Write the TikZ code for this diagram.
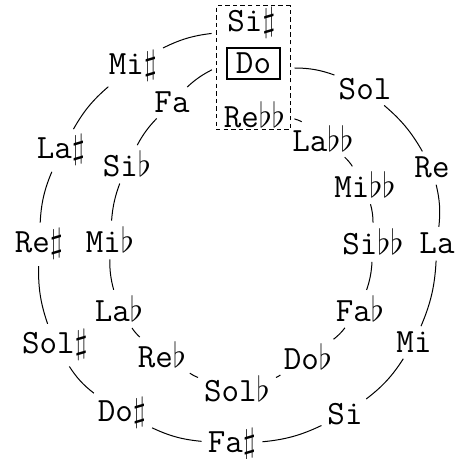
\documentclass[tikz,border=0pt]{standalone}
\usetikzlibrary{calc}
\newcommand{\shrp}{$\sharp$}
\newcommand{\flt}{$\flat$}
\begin{document}
\begin{tikzpicture}[x=0.5pt, y=0.5pt,
        note/.style={font=\fontsize{17}{18}\selectfont\ttfamily, inner sep=1pt, anchor=base},
        tonic/.style={draw, line width=0.6pt, font=\fontsize{17}{18}\selectfont\ttfamily,
            minimum width=26.5pt, minimum height=15.5pt, inner sep=0pt},
        enhbox/.style={draw, line width=0.5pt, dash pattern=on 2.2pt off 1.6pt,
            minimum width=37pt, minimum height=62pt, inner sep=0pt},
        link/.style={line width=0.5pt, shorten >=2pt, shorten <=2pt}
    ]
    \useasboundingbox (0,0) rectangle (454,459);
    \node[enhbox] (enh) at (253,391) {};
    \node[tonic] (do) at (253.5,395.5) {Do};
    \node[note] (sis) at (251.5,427) {Si\shrp};
    \node[note] (rebb) at (254.5,331) {Re\flt\flt};
    \coordinate (enhmis) at ($(enh.north west)!0.22!(enh.south west)$);
    \coordinate (enhlabb) at ($(enh.north east)!0.9!(enh.south east)$);
    % sharps, outer ring
    \node[note] (sol) at (365,359) {Sol};
    \node[note] (re) at (432,281) {Re};
    \node[note] (la) at (437,205) {La};
    \node[note] (mi) at (414,106) {Mi};
    \node[note] (si) at (345,34) {Si};
    \node[note] (fas) at (232,6) {Fa\shrp};
    \node[note] (dos) at (122,37) {Do\shrp};
    \node[note] (sols) at (55,105) {Sol\shrp};
    \node[note] (res) at (39,206) {Re\shrp};
    \node[note] (las) at (61,300) {La\shrp};
    \node[note] (mis) at (133,384) {Mi\shrp};
    % flats, inner ring
    \node[note] (fa) at (172,346) {Fa};
    \node[note] (sif) at (127,282) {Si\flt};
    \node[note] (mif) at (110,206) {Mi\flt};
    \node[note] (laf) at (119,137) {La\flt};
    \node[note] (ref) at (162,91) {Re\flt};
    \node[note] (solf) at (237,57) {Sol\flt};
    \node[note] (dof) at (308,89) {Do\flt};
    \node[note] (faf) at (360,137) {Fa\flt};
    \node[note] (sibb) at (373,204) {Si\flt\flt};
    \node[note] (mibb) at (365,261) {Mi\flt\flt};
    \node[note] (labb) at (323,307) {La\flt\flt};
    \foreach \a/\b in {enh.east/sol, sol/re, re/la, la/mi, mi/si, si/fas,
            fas/dos, dos/sols, sols/res, res/las, las/mis, mis/enhmis}
        \draw[link] (\a) to[bend left=10] (\b);
    \foreach \a/\b in {enh.west/fa, fa/sif, sif/mif, mif/laf, laf/ref, ref/solf,
            solf/dof, dof/faf, faf/sibb, sibb/mibb, mibb/labb, labb/enhlabb}
        \draw[link] (\a) to[bend right=8] (\b);
\end{tikzpicture}
\end{document}
